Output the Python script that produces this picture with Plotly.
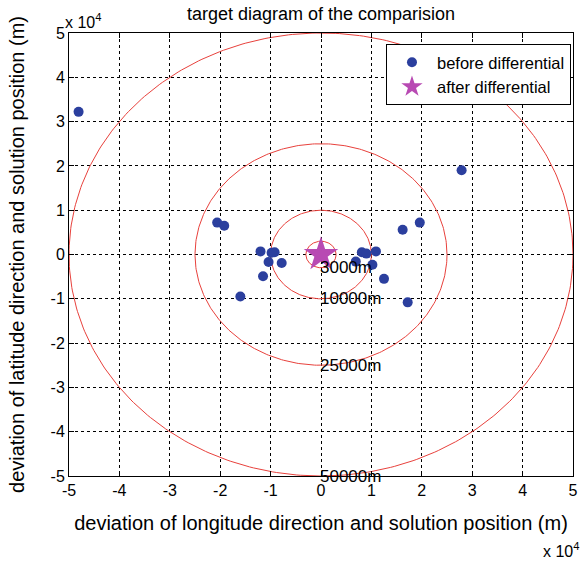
import numpy as np
import plotly.graph_objects as go

# data (units of 1e4 m)
before_x = [-4.81, 2.79, -2.06, -1.92, -1.20, -0.92, -0.98, -1.04, -0.78, -1.15, -1.60,
            0.81, 0.90, 1.09, 0.69, 1.02, 1.25, 1.62, 1.72, 1.96]
before_y = [3.22, 1.90, 0.72, 0.65, 0.07, 0.05, 0.04, -0.17, -0.19, -0.49, -0.95,
            0.05, 0.02, 0.07, -0.16, -0.23, -0.55, 0.56, -1.08, 0.72]
after_x = [0.0]
after_y = [0.0]
radii = [0.3, 1.0, 2.5, 5.0]
radius_labels = ["3000m", "10000m", "25000m", "50000m"]
ticks = [-5, -4, -3, -2, -1, 0, 1, 2, 3, 4, 5]

FONT = "Liberation Sans, Arial, Helvetica, sans-serif"
fig = go.Figure()

t = np.linspace(0, 2 * np.pi, 400)
for r in radii:
    fig.add_trace(go.Scatter(x=r * np.cos(t), y=r * np.sin(t), mode="lines",
                             line=dict(color="#E8413C", width=1), showlegend=False,
                             hoverinfo="skip"))

fig.add_trace(go.Scatter(x=before_x, y=before_y, mode="markers", name="before differential",
                         marker=dict(color="#2B3F9E", size=10, symbol="circle")))
fig.add_trace(go.Scatter(x=after_x, y=after_y, mode="markers", name="after differential",
                         marker=dict(color="#B84AB3", size=26, symbol="star")))

for r, lab in zip(radii, radius_labels):
    fig.add_annotation(x=0, y=-r, text=lab, showarrow=False, xanchor="left", yanchor="middle",
                       xshift=-3, font=dict(size=17, color="black", family=FONT))

axis_common = dict(range=[-5, 5], tickvals=ticks, ticktext=[str(v) for v in ticks],
                   showgrid=True, gridcolor="black", griddash="dot", gridwidth=1,
                   zeroline=False, showline=True, linecolor="black", linewidth=1, mirror="ticks",
                   ticks="inside", ticklen=5, tickcolor="black", automargin=False,
                   tickfont=dict(size=16, color="black", family=FONT))

fig.update_layout(
    width=585, height=567,
    margin=dict(l=69, r=12, t=33, b=91),
    paper_bgcolor="white", plot_bgcolor="white",
    font=dict(family=FONT, color="black"),
    title=dict(text="target diagram of the comparision", x=(69 + 573) / 2 / 585, xanchor="center",
               y=1 - 14 / 567, yanchor="middle", font=dict(size=18, color="black", family=FONT),
               automargin=False),
    xaxis=dict(**axis_common,
               title=dict(text="deviation of longitude direction and solution position (m)",
                          font=dict(size=20, color="black", family=FONT), standoff=17)),
    yaxis=dict(**axis_common,
               title=dict(text="deviation of latitude direction and solution position (m)",
                          font=dict(size=20, color="black", family=FONT), standoff=20)),
    legend=dict(x=0.996, xanchor="right", y=0.975, yanchor="top", bordercolor="black",
                borderwidth=1, bgcolor="white", font=dict(size=16.5, color="black", family=FONT),
                tracegroupgap=0, itemwidth=40),
    showlegend=True,
)

fig.add_annotation(xref="paper", yref="paper", x=0, y=1, xanchor="left", yanchor="bottom",
                   xshift=-6, yshift=0, text="x 10<sup>4</sup>", showarrow=False,
                   font=dict(size=16, color="black", family=FONT))
fig.add_annotation(xref="paper", yref="paper", x=1, y=0, xanchor="right", yanchor="top",
                   xshift=8, yshift=-62, text="x 10<sup>4</sup>", showarrow=False,
                   font=dict(size=16, color="black", family=FONT))

fig.write_html("out.html")
